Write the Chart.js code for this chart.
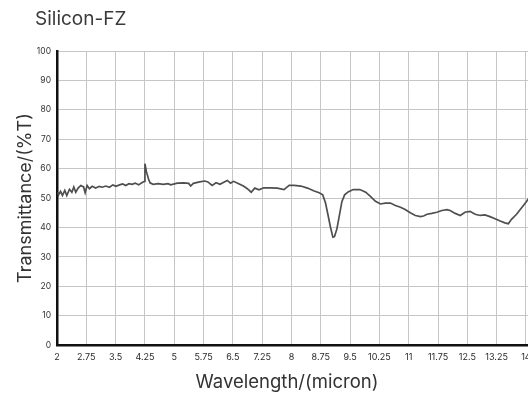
<!DOCTYPE html>
<html>
<head>
<meta charset="utf-8">
<script src="https://cdn.jsdelivr.net/npm/chart.js@4"></script>
<style>
html,body{margin:0;padding:0;background:#fff;}
#wrap{position:relative;width:528px;height:400px;overflow:hidden;background:#fff;}
#title{position:absolute;left:35px;top:7px;font-family:Inter, sans-serif;font-size:19px;line-height:24px;color:#3a3a3a;z-index:2;white-space:nowrap;}
#holder{position:absolute;left:0;top:0;width:600px;height:400px;}
</style>
</head>
<body>
<div id="wrap">
  <div id="title"></div>
  <div id="holder"><canvas id="c" width="600" height="400"></canvas></div>
</div>
<script>
const chartTitle = 'Silicon-FZ';
const xAxisTitle = 'Wavelength/(micron)';
const yAxisTitle = 'Transmittance/(%T)';

const xTickLabels = ['2','2.75','3.5','4.25','5','5.75','6.5','7.25','8','8.75','9.5','10.25','11','11.75','12.5','13.25','14'];
const yTickLabels = ['0','10','20','30','40','50','60','70','80','90','100'];

const wavelength = [
  2.02,2.04,2.09,2.14,2.20,2.25,2.32,2.38,2.43,2.48,2.54,2.61,2.68,2.72,2.77,2.83,2.90,2.99,
  3.08,3.16,3.25,3.34,3.43,3.51,3.60,3.68,3.76,3.84,3.92,4.00,4.09,4.17,4.24,4.25,4.29,4.34,
  4.38,4.46,4.59,4.72,4.84,4.91,5.08,5.24,5.37,5.42,5.49,5.65,5.78,5.86,5.97,6.07,6.17,6.28,
  6.36,6.44,6.52,6.65,6.77,6.87,6.97,7.06,7.17,7.29,7.45,7.64,7.81,7.94,8.07,8.24,8.41,8.58,
  8.71,8.80,8.87,8.93,9.00,9.06,9.10,9.16,9.23,9.29,9.36,9.45,9.58,9.75,9.90,10.02,10.15,10.28,
  10.40,10.53,10.66,10.79,10.91,11.04,11.17,11.30,11.38,11.47,11.59,11.72,11.85,11.98,12.06,
  12.19,12.32,12.44,12.57,12.70,12.83,12.95,13.08,13.21,13.34,13.46,13.55,13.63,13.76,13.89,
  14.02,14.10
];
const transmittance = [
  52.0,51.1,52.3,50.9,52.6,50.9,53.0,52.0,53.8,52.0,53.4,54.3,53.8,51.8,54.3,53.2,54.0,53.4,
  54.0,53.7,54.1,53.7,54.5,54.0,54.5,54.8,54.3,54.9,54.7,55.1,54.5,55.2,55.7,61.7,58.9,56.6,
  55.2,54.7,54.9,54.7,54.9,54.5,55.1,55.2,55.0,54.1,55.0,55.5,55.8,55.5,54.3,55.2,54.7,55.5,
  56.0,55.1,55.7,54.9,54.1,53.2,52.0,53.4,52.8,53.5,53.5,53.4,52.9,54.3,54.3,54.1,53.4,52.4,
  51.8,51.1,48.4,44.6,40.0,36.7,36.9,39.4,44.4,48.8,51.1,52.1,52.9,52.9,52.0,50.6,48.9,48.0,
  48.3,48.3,47.5,46.9,46.1,45.0,44.1,43.7,43.9,44.5,44.8,45.2,45.8,46.1,45.8,
  44.8,44.1,45.2,45.5,44.5,44.1,44.3,43.7,43.0,42.2,41.6,41.3,42.8,44.5,
  46.7,48.9,50.5
];

document.getElementById('title').textContent = chartTitle;

const FONT = 'Inter, sans-serif';
const points = wavelength.map((x, i) => ({x: x, y: transmittance[i]}));

new Chart(document.getElementById('c'), {
  type: 'line',
  data: {
    datasets: [{
      data: points,
      borderColor: '#4f4f4f',
      borderWidth: 1.7,
      pointRadius: 0,
      tension: 0,
      fill: false
    }]
  },
  options: {
    responsive: false,
    animation: false,
    devicePixelRatio: 1,
    layout: {padding: {top: 51, left: 0, right: 26, bottom: 0}},
    plugins: {
      legend: {display: false},
      tooltip: {enabled: false},
      title: {
        display: true,
        position: 'bottom',
        text: xAxisTitle,
        color: '#333',
        font: {family: FONT, size: 18.5, weight: 'normal', lineHeight: 1.2},
        padding: {top: 0, bottom: 6}
      }
    },
    scales: {
      x: {
        type: 'linear',
        min: 2,
        max: 15.23,
        afterBuildTicks: s => { s.ticks = xTickLabels.map(v => ({value: parseFloat(v)})); },
        afterFit: s => { s.height = 26.6; },
        ticks: {
          autoSkip: false, maxRotation: 0, minRotation: 0, padding: 7,
          color: '#2a2a2a', font: {family: FONT, size: 9},
          callback: (v, i) => xTickLabels[i]
        },
        grid: {color: '#c6c6c6', lineWidth: 1, drawTicks: false},
        border: {color: '#111', width: 2.5}
      },
      y: {
        min: 0,
        max: 100,
        afterBuildTicks: s => { s.ticks = yTickLabels.map(v => ({value: parseFloat(v)})); },
        afterFit: s => { s.width = 57; },
        ticks: {
          padding: 6, color: '#333', font: {family: FONT, size: 8.5},
          callback: (v, i) => yTickLabels[i]
        },
        grid: {color: '#c6c6c6', lineWidth: 1, drawTicks: false},
        border: {color: '#111', width: 2.5},
        title: {
          display: true,
          text: yAxisTitle,
          color: '#333',
          font: {family: FONT, size: 18, weight: 'normal', lineHeight: 1.2},
          padding: {top: 14.5, bottom: 0}
        }
      }
    }
  }
});
</script>
</body>
</html>
